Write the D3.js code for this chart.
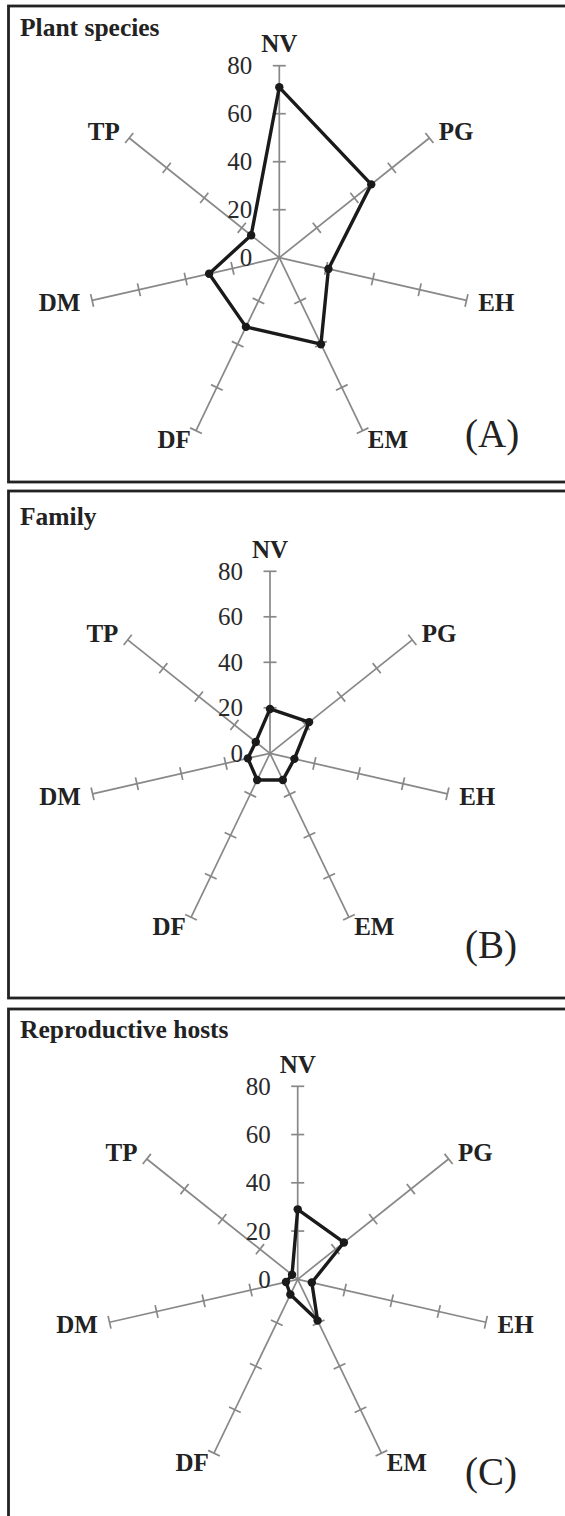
<!DOCTYPE html>
<html>
<head>
<meta charset="utf-8">
<script src="https://cdn.jsdelivr.net/npm/d3@7"></script>
<style>
  body { margin: 0; background: #fff; }
  svg { display: block; }
</style>
</head>
<body>
<div id="chart"></div>
<script>
// axis categories, clockwise from the top
const categories = ["NV", "PG", "EH", "EM", "DF", "DM", "TP"];
const tickValues = [0, 20, 40, 60, 80];

const plantSpecies      = [71, 49, 21, 40, 32, 30, 15];
const family            = [19.5, 22, 11, 13, 13, 10, 8];
const reproductiveHosts = [29, 24.5, 6, 19, 7, 5, 3];

const panelTitles  = ["Plant species", "Family", "Reproductive hosts"];
const panelLetters = ["(A)", "(B)", "(C)"];
const panelSeries  = [plantSpecies, family, reproductiveHosts];

// layout of each framed panel
const panels = [
    { top: 6,    bottom: 482,  cx: 279.3, cy: 257.7,  R: 192, titleY: 36,   letterY: 447 },
    { top: 491,  bottom: 998,  cx: 270,   cy: 753.3,  R: 182, titleY: 525,  letterY: 958 },
    { top: 1009, bottom: 1540, cx: 297.7, cy: 1279.3, R: 193, titleY: 1038, letterY: 1485 }
];

const W = 565, H = 1516;
const serif = "'Liberation Serif', 'Times New Roman', serif";

const svg = d3.select("#chart").append("svg")
    .attr("width", W)
    .attr("height", H);

svg.append("rect").attr("width", W).attr("height", H).attr("fill", "#fff");

const angle = d3.scaleLinear()
    .domain([0, categories.length])
    .range([0, 2 * Math.PI]);

panels.forEach((p, i) => {
    const values = panelSeries[i];

    // frame (runs off the right edge like the original)
    svg.append("rect")
        .attr("x", 8.5)
        .attr("y", p.top)
        .attr("width", 580)
        .attr("height", p.bottom - p.top)
        .attr("fill", "none")
        .attr("stroke", "#222")
        .attr("stroke-width", 2.8);

    svg.append("text")
        .attr("x", 20)
        .attr("y", p.titleY)
        .style("font-family", serif)
        .style("font-weight", "bold")
        .style("font-size", "25.5px")
        .style("fill", "#222")
        .text(panelTitles[i]);

    svg.append("text")
        .attr("x", 465)
        .attr("y", p.letterY)
        .style("font-family", serif)
        .style("font-size", "39px")
        .style("fill", "#222")
        .text(panelLetters[i]);

    const r = d3.scaleLinear().domain([0, 80]).range([0, p.R]);
    const g = svg.append("g").attr("transform", `translate(${p.cx},${p.cy})`);

    // spokes with perpendicular ticks
    categories.forEach((c, k) => {
        const a = angle(k);
        const sx = Math.sin(a), sy = -Math.cos(a);
        g.append("line")
            .attr("x1", 0).attr("y1", 0)
            .attr("x2", r(80) * sx).attr("y2", r(80) * sy)
            .attr("stroke", "#888")
            .attr("stroke-width", 1.7);

        tickValues.filter(v => v > 0).forEach(v => {
            const px = r(v) * sx, py = r(v) * sy;
            const t = 6.5;
            g.append("line")
                .attr("x1", px - t * Math.cos(a)).attr("y1", py - t * Math.sin(a))
                .attr("x2", px + t * Math.cos(a)).attr("y2", py + t * Math.sin(a))
                .attr("stroke", "#888")
                .attr("stroke-width", 1.7);
        });

        // category label
        const ex = r(80) * sx, ey = r(80) * sy;
        const anchor = sx > 0.1 ? "start" : (sx < -0.1 ? "end" : "middle");
        const lift = Math.cos(a) > 0.95 ? 12 : 0;
        g.append("text")
            .attr("x", ex + sx * 12)
            .attr("y", ey + sy * 10 - lift)
            .attr("text-anchor", anchor)
            .attr("dominant-baseline", "central")
            .style("font-family", serif)
            .style("font-weight", "bold")
            .style("font-size", "25px")
            .style("fill", "#222")
            .text(c);
    });

    // value labels along NV
    g.selectAll(".tick-label")
        .data(tickValues)
        .enter().append("text")
        .attr("class", "tick-label")
        .attr("x", -27)
        .attr("y", d => -r(d))
        .attr("text-anchor", "end")
        .attr("dominant-baseline", "central")
        .style("font-family", serif)
        .style("font-size", "25px")
        .style("fill", "#2a2a2a")
        .text(d => d);

    // series polygon
    const radial = d3.lineRadial()
        .angle((d, k) => angle(k))
        .radius(d => r(d))
        .curve(d3.curveLinearClosed);

    g.append("path")
        .datum(values)
        .attr("d", radial)
        .attr("fill", "none")
        .attr("stroke", "#1a1a1a")
        .attr("stroke-width", 3.4)
        .attr("stroke-linejoin", "round");

    g.selectAll(".pt")
        .data(values)
        .enter().append("circle")
        .attr("class", "pt")
        .attr("cx", (d, k) => r(d) * Math.sin(angle(k)))
        .attr("cy", (d, k) => -r(d) * Math.cos(angle(k)))
        .attr("r", 4.2)
        .attr("fill", "#1a1a1a");
});
</script>
</body>
</html>
